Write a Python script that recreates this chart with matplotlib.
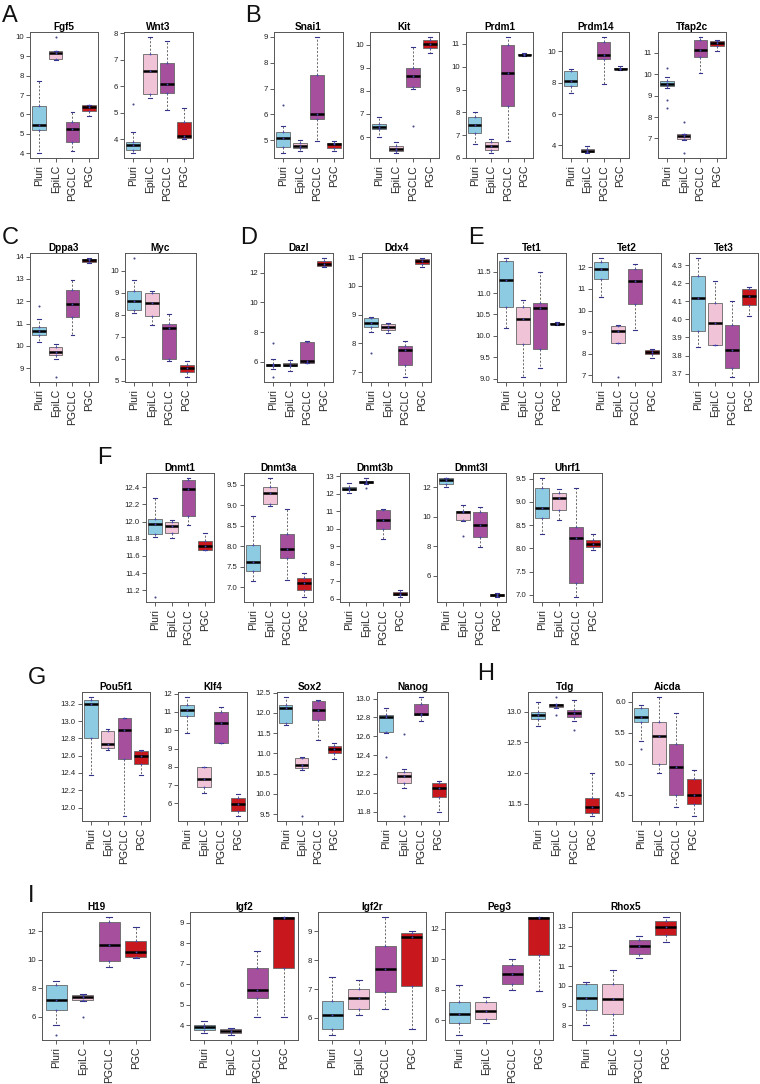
import matplotlib
matplotlib.use('Agg')
import matplotlib.pyplot as plt
from matplotlib.ticker import MultipleLocator, ScalarFormatter

plt.rcParams['font.family'] = ['Liberation Sans', 'DejaVu Sans']

groups = ['Pluri', 'EpiLC', 'PGCLC', 'PGC']
colors = ['#8ccbe2', '#f1c3d7', '#a64f9d', '#c9181d']

# box stats per group: (whisker low, q1, median, q3, whisker high)
fgf5 = [(4.0, 5.18, 5.48, 6.42, 7.7), (8.78, 8.87, 9.15, 9.25, 9.25), (4.1, 4.6, 5.25, 5.6, 6.15), (5.93, 6.18, 6.38, 6.48, 6.5)]
fgf5_out = [[], [10.0], [], []]
wnt3 = [(3.47, 3.6, 3.78, 3.9, 4.28), (5.57, 5.71, 6.58, 7.24, 7.88), (5.12, 5.76, 6.08, 6.9, 7.72), (4.0, 4.05, 4.13, 4.65, 5.17)]
wnt3_out = [[5.35], [], [], []]
snai1 = [(4.5, 4.75, 5.1, 5.33, 5.57), (4.6, 4.7, 4.8, 4.88, 5.0), (4.97, 5.82, 6.0, 7.52, 9.0), (4.6, 4.7, 4.85, 4.9, 4.98)]
snai1_out = [[6.35], [], [], []]
kit = [(6.0, 6.35, 6.45, 6.55, 6.88), (5.3, 5.4, 5.5, 5.6, 5.8), (8.1, 8.15, 8.65, 8.98, 9.9), (9.65, 9.85, 10.02, 10.2, 10.34)]
kit_out = [[], [], [6.48], []]
prdm1 = [(6.6, 7.08, 7.44, 7.78, 8.0), (6.2, 6.35, 6.5, 6.7, 6.85), (6.75, 8.26, 9.73, 10.96, 11.32), (10.47, 10.5, 10.53, 10.57, 10.6)]
prdm1_out = [[], [], [], []]
prdm14 = [(7.32, 7.81, 8.13, 8.75, 8.88), (3.5, 3.58, 3.65, 3.78, 3.95), (7.91, 9.48, 9.74, 10.6, 10.93), (8.8, 8.85, 8.9, 8.95, 9.05)]
prdm14_out = [[], [], [], []]
tfap2c = [(9.35, 9.43, 9.56, 9.67, 9.86), (6.92, 6.97, 7.12, 7.2, 7.22), (10.08, 10.81, 11.14, 11.59, 11.76), (11.1, 11.32, 11.45, 11.57, 11.6)]
tfap2c_out = [[10.28, 8.78, 8.43], [7.78, 6.3], [], []]

dppa3 = [(10.2, 10.5, 10.65, 10.85, 11.2), (9.4, 9.6, 9.75, 9.95, 10.1), (10.5, 11.3, 11.9, 12.5, 12.95), (13.72, 13.78, 13.84, 13.88, 13.95)]
dppa3_out = [[11.8], [8.6], [], []]
myc = [(8.1, 8.2, 8.65, 9.1, 9.57), (7.52, 7.94, 8.54, 8.98, 9.1), (5.89, 6.0, 7.41, 7.58, 8.05), (5.15, 5.38, 5.57, 5.73, 5.88)]
myc_out = [[10.6], [], [], []]
dazl = [(5.5, 5.72, 5.8, 5.87, 6.2), (5.38, 5.7, 5.82, 5.95, 6.14), (5.9, 5.95, 6.06, 7.34, 7.42), (12.35, 12.42, 12.6, 12.78, 13.0)]
dazl_out = [[7.27, 4.97], [], [], []]
ddx4 = [(8.4, 8.57, 8.7, 8.88, 8.92), (8.37, 8.46, 8.58, 8.66, 8.72), (6.82, 7.23, 7.77, 7.92, 8.07), (10.67, 10.78, 10.86, 10.94, 10.98)]
ddx4_out = [[7.67], [], [], []]
tet1 = [(10.18, 10.68, 11.31, 11.74, 11.82), (9.04, 9.82, 10.39, 10.68, 10.84), (9.25, 9.69, 10.64, 10.77, 11.48), (10.25, 10.27, 10.29, 10.3, 10.32)]
tet1_out = [[], [], [], []]
tet2 = [(10.65, 11.45, 11.95, 12.27, 12.45), (8.49, 8.5, 9.03, 9.28, 9.31), (9.11, 10.28, 11.38, 11.95, 12.15), (7.77, 7.97, 8.08, 8.17, 8.21)]
tet2_out = [[], [6.9], [], []]
tet3 = [(3.845, 3.935, 4.115, 4.24, 4.34), (3.86, 3.86, 3.98, 4.09, 4.21), (3.68, 3.73, 3.83, 3.97, 4.1), (4.02, 4.08, 4.13, 4.17, 4.18)]
tet3_out = [[], [], [], []]

dnmt1 = [(11.82, 11.85, 11.97, 12.03, 12.27), (11.81, 11.87, 11.95, 11.99, 12.02), (11.96, 12.06, 12.38, 12.48, 12.51), (11.67, 11.67, 11.72, 11.77, 11.87)]
dnmt1_out = [[11.12], [], [], []]
dnmt3a = [(7.15, 7.4, 7.62, 8.04, 8.75), (8.98, 9.04, 9.3, 9.45, 9.67), (7.19, 7.71, 7.94, 8.31, 8.9), (6.76, 6.93, 7.1, 7.23, 7.36)]
dnmt3a_out = [[], [], [], []]
dnmt3b = [(12.05, 12.18, 12.28, 12.4, 12.58), (12.55, 12.6, 12.65, 12.72, 12.9), (9.44, 9.98, 10.52, 11.08, 11.12), (6.1, 6.2, 6.3, 6.4, 6.5)]
dnmt3b_out = [[], [12.3], [], []]
dnmt3l = [(12.0, 12.25, 12.48, 12.62, 12.65), (9.7, 9.79, 10.33, 10.38, 10.83), (7.95, 8.62, 9.43, 10.33, 10.67), (4.55, 4.6, 4.67, 4.75, 4.85)]
dnmt3l_out = [[], [8.67], [], []]
uhrf1 = [(8.3, 8.65, 8.87, 9.31, 9.52), (8.62, 8.83, 9.08, 9.19, 9.28), (6.95, 7.26, 8.22, 8.47, 9.29), (7.96, 8.02, 8.09, 8.19, 8.3)]
uhrf1_out = [[], [], [], []]

pou5f1 = [(12.38, 12.8, 13.2, 13.24, 13.28), (12.67, 12.69, 12.73, 12.89, 12.91), (11.9, 12.56, 12.9, 13.03, 13.03), (12.38, 12.5, 12.6, 12.65, 12.66)]
pou5f1_out = [[], [], [], []]
klf4 = [(9.87, 10.77, 11.11, 11.39, 11.83), (6.55, 6.9, 7.35, 8.0, 8.0), (9.3, 9.32, 10.42, 10.98, 11.28), (5.3, 5.6, 5.95, 6.3, 6.5)]
klf4_out = [[], [], [], []]
sox2 = [(11.7, 11.76, 12.12, 12.19, 12.4), (10.6, 10.65, 10.72, 10.9, 10.92), (11.34, 11.82, 12.08, 12.3, 12.32), (10.86, 11.0, 11.1, 11.18, 11.25)]
sox2_out = [[], [9.45], [], []]
nanog = [(12.63, 12.65, 12.81, 12.83, 12.9), (12.05, 12.1, 12.18, 12.22, 12.25), (12.76, 12.83, 12.84, 12.94, 13.02), (11.8, 11.95, 12.05, 12.1, 12.12)]
nanog_out = [[12.38], [12.62, 11.75], [], []]
tdg = [(12.76, 12.88, 12.95, 13.0, 13.15), (13.06, 13.07, 13.1, 13.12, 13.12), (12.85, 12.91, 12.97, 13.03, 13.19), (11.3, 11.35, 11.45, 11.6, 12.0)]
tdg_out = [[], [13.24, 12.95], [12.7], []]
aicda = [(5.37, 5.68, 5.75, 5.9, 5.95), (4.85, 5.0, 5.45, 5.68, 6.08), (4.3, 4.5, 4.95, 5.32, 5.81), (4.15, 4.35, 4.5, 4.75, 4.9)]
aicda_out = [[5.23], [], [], []]

h19 = [(5.4, 6.5, 7.2, 8.2, 8.5), (7.1, 7.15, 7.35, 7.5, 7.6), (9.5, 9.9, 11.0, 12.6, 13.0), (10.1, 10.2, 10.5, 11.3, 12.3)]
h19_out = [[4.7], [6.0], [], []]
igf2 = [(3.6, 3.75, 3.9, 4.0, 4.2), (3.5, 3.6, 3.7, 3.8, 3.85), (4.4, 5.3, 5.7, 6.8, 7.6), (4.4, 6.8, 9.25, 9.3, 9.3)]
igf2_out = [[], [], [], []]
igf2r = [(5.4, 5.6, 6.1, 6.6, 7.4), (6.1, 6.3, 6.7, 7.0, 7.3), (6.3, 6.9, 7.7, 8.5, 9.5), (5.6, 7.1, 8.8, 8.95, 9.0)]
igf2r_out = [[], [], [], []]
peg3 = [(5.0, 5.8, 6.4, 7.2, 8.3), (5.8, 6.1, 6.6, 7.2, 7.5), (8.0, 8.4, 9.0, 9.6, 10.0), (7.9, 10.3, 12.7, 12.8, 12.8)]
peg3_out = [[], [], [], []]
rhox5 = [(8.0, 8.8, 9.4, 10.1, 10.2), (7.5, 8.6, 9.35, 10.1, 10.8), (11.4, 11.6, 12.0, 12.3, 12.5), (12.2, 12.6, 13.0, 13.3, 13.5)]
rhox5_out = [[], [], [], []]

# name, stats, outliers, tick step, box rect in px (left, right, top, bottom)
panels = [
    ('Fgf5', fgf5, fgf5_out, 1, (30, 98, 32, 158)),
    ('Wnt3', wnt3, wnt3_out, 1, (124, 193, 32, 158)),
    ('Snai1', snai1, snai1_out, 1, (274, 343, 32, 158)),
    ('Kit', kit, kit_out, 1, (370, 439, 32, 158)),
    ('Prdm1', prdm1, prdm1_out, 1, (466, 533, 32, 158)),
    ('Prdm14', prdm14, prdm14_out, 2, (562, 629, 32, 158)),
    ('Tfap2c', tfap2c, tfap2c_out, 1, (658, 726, 32, 158)),
    ('Dppa3', dppa3, dppa3_out, 1, (30, 98, 253, 382)),
    ('Myc', myc, myc_out, 1, (125, 196, 253, 382)),
    ('Dazl', dazl, dazl_out, 2, (264, 333, 253, 382)),
    ('Ddx4', ddx4, ddx4_out, 1, (362, 431, 253, 382)),
    ('Tet1', tet1, tet1_out, 0.5, (497, 566, 253, 382)),
    ('Tet2', tet2, tet2_out, 1, (592, 661, 253, 382)),
    ('Tet3', tet3, tet3_out, 0.1, (689, 758, 253, 382)),
    ('Dnmt1', dnmt1, dnmt1_out, 0.2, (146, 214, 473, 602)),
    ('Dnmt3a', dnmt3a, dnmt3a_out, 0.5, (244, 313, 473, 602)),
    ('Dnmt3b', dnmt3b, dnmt3b_out, 1, (340, 409, 473, 602)),
    ('Dnmt3l', dnmt3l, dnmt3l_out, 2, (437, 506, 473, 602)),
    ('Uhrf1', uhrf1, uhrf1_out, 0.5, (533, 602, 473, 602)),
    ('Pou5f1', pou5f1, pou5f1_out, 0.2, (82, 150, 692, 821)),
    ('Klf4', klf4, klf4_out, 1, (178, 247, 692, 821)),
    ('Sox2', sox2, sox2_out, 0.5, (277, 343, 692, 821)),
    ('Nanog', nanog, nanog_out, 0.2, (377, 448, 692, 821)),
    ('Tdg', tdg, tdg_out, 0.5, (528, 602, 692, 821)),
    ('Aicda', aicda, aicda_out, 0.5, (632, 703, 692, 821)),
    ('H19', h19, h19_out, 2, (42, 150, 912, 1040)),
    ('Igf2', igf2, igf2_out, 1, (190, 298, 912, 1040)),
    ('Igf2r', igf2r, igf2r_out, 1, (318, 426, 912, 1040)),
    ('Peg3', peg3, peg3_out, 2, (445, 553, 912, 1040)),
    ('Rhox5', rhox5, rhox5_out, 1, (572, 680, 912, 1040)),
]

letters = [('A', 2, 5), ('B', 245, 5), ('C', 2, 227), ('D', 240, 227), ('E', 468, 227),
           ('F', 97, 447), ('G', 28, 667), ('H', 477, 663), ('I', 28, 885)]

W, H = 760, 1084
fig = plt.figure(figsize=(W / 100, H / 100), dpi=100)

for name, st, outs, step, (l, r, t, b) in panels:
    ax = fig.add_axes([l / W, 1 - b / H, (r - l) / W, (b - t) / H])
    stats = []
    for g, s, o in zip(groups, st, outs):
        stats.append(dict(label=g, whislo=s[0], q1=s[1], med=s[2], q3=s[3], whishi=s[4], fliers=o))
    res = ax.bxp(stats, positions=[1, 2, 3, 4], widths=0.8, patch_artist=True,
                 boxprops=dict(edgecolor='#666666', linewidth=0.6),
                 medianprops=dict(color='black', linewidth=1.8, solid_capstyle='butt'),
                 whiskerprops=dict(color='#555555', linewidth=0.6, linestyle=(0, (2.5, 2))),
                 capprops=dict(color='#34348c', linewidth=0.8), capwidths=0.22,
                 flierprops=dict(marker='o', markersize=1.5, markerfacecolor='#4a4a8a',
                                 markeredgecolor='none'))
    for patch, c in zip(res['boxes'], colors):
        patch.set_facecolor(c)
    # sample dots drawn along the box centre
    for i, s in enumerate(st):
        ax.plot([i + 1] * 3, [s[1], s[2], s[3]], 'o', ms=1.3, color='#4848b8',
                markeredgecolor='none', zorder=5)

    vals = [v for s in st for v in s] + [v for o in outs for v in o]
    lo, hi = min(vals), max(vals)
    pad = (hi - lo) * 0.04
    ax.set_ylim(lo - pad, hi + pad)
    ax.set_xlim(0.46, 4.54)
    ax.yaxis.set_major_locator(MultipleLocator(step))
    ax.yaxis.set_major_formatter(ScalarFormatter(useOffset=False))
    ax.set_xticks([1, 2, 3, 4])
    ax.set_xticklabels(groups, rotation=90, fontsize=7.5, color='#222222')
    ax.tick_params(axis='y', labelsize=5.6, length=3, width=0.6, pad=1.5,
                   colors='#444444', labelcolor='#222222')
    ax.tick_params(axis='x', length=3, width=0.6, pad=2, colors='#444444',
                   labelcolor='#222222')
    for sp in ax.spines.values():
        sp.set_color('#555555')
        sp.set_linewidth(0.7)
    ax.set_title(name, fontsize=7.2, fontweight='bold', pad=1.5)

for txt, x, y in letters:
    fig.text(x / W, 1 - y / H, txt, fontsize=17, ha='left', va='top', color='#111111')

fig.savefig('out.png', dpi=100)
